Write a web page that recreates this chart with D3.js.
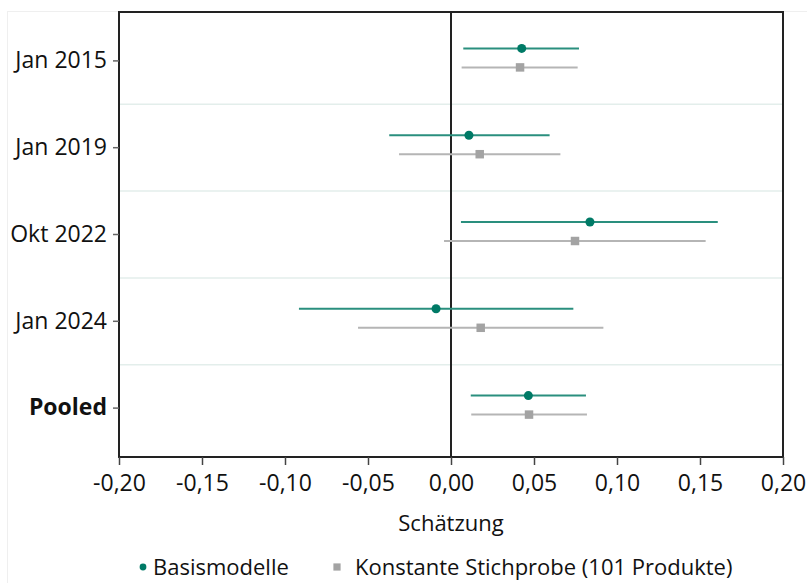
<!DOCTYPE html>
<html>
<head>
<meta charset="utf-8">
<script src="https://cdn.jsdelivr.net/npm/d3@7"></script>
<style>
  body { margin: 0; background: #fff; }
  svg text { font-family: "Open Sans", sans-serif; fill: #111; }
</style>
</head>
<body>
<svg width="807" height="583"></svg>
<script>
var categories = ["Jan 2015", "Jan 2019", "Okt 2022", "Jan 2024", "Pooled"];
var seriesNames = ["Basismodelle", "Konstante Stichprobe (101 Produkte)"];

// Basismodelle
var basisEst = [0.0426, 0.0108, 0.0837, -0.0090, 0.0466];
var basisLo  = [0.0074, -0.0372, 0.0060, -0.0916, 0.0119];
var basisHi  = [0.0771, 0.0594, 0.1607, 0.0737, 0.0813];
// Konstante Stichprobe
var konstEst = [0.0416, 0.0173, 0.0747, 0.0179, 0.0470];
var konstLo  = [0.0064, -0.0313, -0.0042, -0.0560, 0.0122];
var konstHi  = [0.0763, 0.0659, 0.1534, 0.0918, 0.0819];

var xTicks = [-0.20, -0.15, -0.10, -0.05, 0, 0.05, 0.10, 0.15, 0.20];

var svg = d3.select("svg"),
    margin = {top: 12, right: 24, bottom: 126, left: 119},
    width = svg.attr("width") - margin.left - margin.right,
    height = svg.attr("height") - margin.top - margin.bottom;

var locale = d3.formatLocale({decimal: ",", thousands: ".", grouping: [3], currency: ["", " €"], minus: "-"});
var fmt = locale.format(".2f");

var x = d3.scaleLinear().domain([-0.2, 0.2]).range([0, width]),
    y = d3.scaleBand().domain(categories).range([5.5, height - 5.5]),
    dodge = d3.scalePoint().domain(seriesNames).range([-12.5, 6.5]),
    lineColor = d3.scaleOrdinal(seriesNames, ["#2a8f7e", "#b5b5b5"]),
    markColor = d3.scaleOrdinal(seriesNames, ["#007a66", "#a3a3a3"]);

var data = [];
categories.forEach(function(c, i) {
  data.push({cat: c, key: seriesNames[0], est: basisEst[i], lo: basisLo[i], hi: basisHi[i]});
  data.push({cat: c, key: seriesNames[1], est: konstEst[i], lo: konstLo[i], hi: konstHi[i]});
});

// faint outer frame
svg.append("rect")
    .attr("x", 7.5).attr("y", 11.5)
    .attr("width", 820).attr("height", 600)
    .attr("fill", "none").attr("stroke", "#efefef");

var g = svg.append("g")
    .attr("transform", "translate(" + margin.left + "," + margin.top + ")");

// band separators
g.selectAll(".sep")
  .data(categories.slice(1))
  .enter().append("line")
    .attr("class", "sep")
    .attr("x1", 0).attr("x2", width)
    .attr("y1", function(d) { return y(d); })
    .attr("y2", function(d) { return y(d); })
    .attr("stroke", "#e3eeeb").attr("stroke-width", 1.5);

// zero line
g.append("line")
    .attr("x1", x(0)).attr("x2", x(0))
    .attr("y1", 0).attr("y2", height)
    .attr("stroke", "#222").attr("stroke-width", 2);

// intervals
g.selectAll(".ci")
  .data(data)
  .enter().append("line")
    .attr("class", "ci")
    .attr("x1", function(d) { return x(d.lo); })
    .attr("x2", function(d) { return x(d.hi); })
    .attr("y1", function(d) { return y(d.cat) + y.bandwidth() / 2 + dodge(d.key); })
    .attr("y2", function(d) { return y(d.cat) + y.bandwidth() / 2 + dodge(d.key); })
    .attr("stroke", function(d) { return lineColor(d.key); })
    .attr("stroke-width", 2);

// points
g.selectAll(".pt")
  .data(data)
  .enter().append("path")
    .attr("class", "pt")
    .attr("transform", function(d) {
      return "translate(" + x(d.est) + "," + (y(d.cat) + y.bandwidth() / 2 + dodge(d.key)) + ")";
    })
    .attr("d", function(d) {
      return d.key == seriesNames[0]
        ? d3.symbol(d3.symbolCircle, 64)()
        : d3.symbol(d3.symbolSquare, 72)();
    })
    .attr("fill", function(d) { return markColor(d.key); });

// frame
g.append("rect")
    .attr("width", width).attr("height", height)
    .attr("fill", "none").attr("stroke", "#222").attr("stroke-width", 2);

// x axis
var xAxis = g.append("g")
    .attr("transform", "translate(0," + height + ")")
    .call(d3.axisBottom(x).tickValues(xTicks).tickFormat(fmt).tickSize(8).tickPadding(10));
xAxis.select(".domain").remove();
xAxis.selectAll(".tick line").attr("stroke", "#444").attr("stroke-width", 1.5);
xAxis.selectAll("text").style("font-size", "23px").attr("fill", "#111");

// y axis
var yAxis = g.append("g")
    .call(d3.axisLeft(y).tickSize(6).tickPadding(6));
yAxis.select(".domain").remove();
yAxis.selectAll(".tick line").attr("stroke", "#666").attr("stroke-width", 1.5);
yAxis.selectAll("text")
    .style("font-size", "23px").attr("fill", "#111")
    .style("font-weight", function(d) { return d == "Pooled" ? "bold" : "normal"; });

// axis title
g.append("text")
    .attr("x", x(0)).attr("y", height + 74)
    .attr("text-anchor", "middle")
    .style("font-size", "22px")
    .text("Schätzung");

// legend
var legend = svg.append("g").attr("transform", "translate(0,567)");
legend.append("path")
    .attr("transform", "translate(143,0)")
    .attr("d", d3.symbol(d3.symbolCircle, 36)())
    .attr("fill", markColor(seriesNames[0]));
legend.append("text")
    .attr("x", 153).attr("y", 8)
    .style("font-size", "22px")
    .text(seriesNames[0]);
legend.append("path")
    .attr("transform", "translate(337,0)")
    .attr("d", d3.symbol(d3.symbolSquare, 52)())
    .attr("fill", markColor(seriesNames[1]));
legend.append("text")
    .attr("x", 355).attr("y", 8)
    .style("font-size", "22px")
    .text(seriesNames[1]);
</script>
</body>
</html>
